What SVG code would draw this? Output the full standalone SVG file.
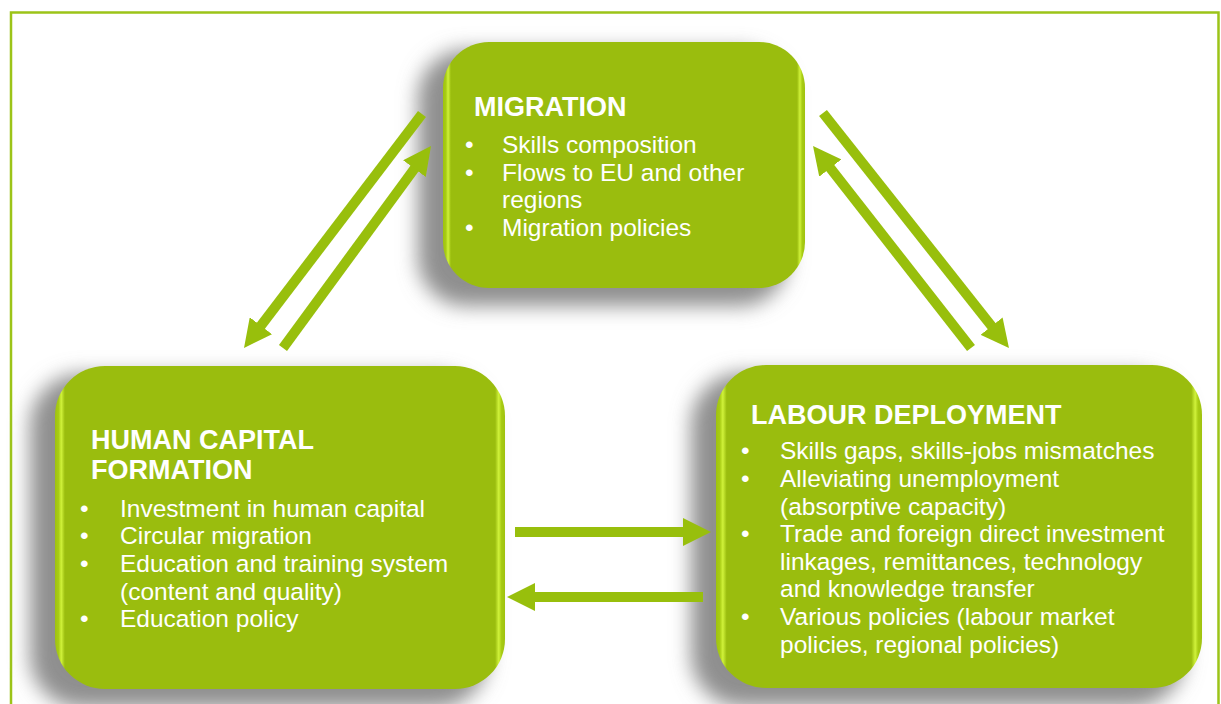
<svg xmlns="http://www.w3.org/2000/svg" width="1221" height="704" viewBox="0 0 1221 704">
<defs>
<style>
.box{fill:url(#boxfill)}
.shadow{fill:#8f8f8f;filter:url(#blur)}
.title{font-family:"Liberation Sans",Arial,sans-serif;font-weight:bold;font-size:27px;fill:#ffffff}
.item{font-family:"Liberation Sans",Arial,sans-serif;font-size:24.5px;fill:#ffffff}
.arrow{stroke:#98bf0c;stroke-width:10;fill:none;marker-end:url(#head)}
</style>
<linearGradient id="boxfill" x1="0" y1="0" x2="1" y2="0">
<stop offset="0" stop-color="#9fc20e"/>
<stop offset="0.008" stop-color="#a8cc14"/>
<stop offset="0.014" stop-color="#d0f23a"/>
<stop offset="0.022" stop-color="#9abd0e"/>
<stop offset="0.978" stop-color="#9abd0e"/>
<stop offset="0.986" stop-color="#d0f23a"/>
<stop offset="0.992" stop-color="#a8cc14"/>
<stop offset="1" stop-color="#9fc20e"/>
</linearGradient>
<filter id="blur" x="-30%" y="-30%" width="160%" height="160%">
<feGaussianBlur stdDeviation="10"/>
</filter>
<marker id="head" markerWidth="2.8" markerHeight="2.8" refX="0.5" refY="1.4" orient="auto" markerUnits="strokeWidth">
<path d="M0,0 L2.8,1.4 L0,2.8 z" fill="#98bf0c"/>
</marker>
</defs>
<rect width="1221" height="704" fill="#ffffff"/>
<path d="M11,704 L11,12.5 L1218.5,12.5 L1218.5,704" fill="none" stroke="#9cc418" stroke-width="2.5"/>

<g id="migration">
<rect class="shadow" x="418" y="50" width="370" height="256" rx="48"/>
<rect class="box" x="443" y="42" width="362" height="246" rx="46"/>
<text class="title" x="474" y="116">MIGRATION</text>
<text class="item" x="465" y="153">•</text>
<text class="item" x="502" y="153">Skills composition</text>
<text class="item" x="465" y="180.5">•</text>
<text class="item" x="502" y="180.5">Flows to EU and other</text>
<text class="item" x="502" y="208">regions</text>
<text class="item" x="465" y="235.5">•</text>
<text class="item" x="502" y="235.5">Migration policies</text>
</g>

<g id="human-capital">
<rect class="shadow" x="30" y="374" width="458" height="334" rx="52"/>
<rect class="box" x="55" y="366" width="450" height="323" rx="50"/>
<text class="title" x="91" y="449">HUMAN CAPITAL</text>
<text class="title" x="91" y="479">FORMATION</text>
<text class="item" x="80" y="516.5">•</text>
<text class="item" x="120" y="516.5">Investment in human capital</text>
<text class="item" x="80" y="544">•</text>
<text class="item" x="120" y="544">Circular migration</text>
<text class="item" x="80" y="572">•</text>
<text class="item" x="120" y="572">Education and training system</text>
<text class="item" x="120" y="599.5">(content and quality)</text>
<text class="item" x="80" y="626.5">•</text>
<text class="item" x="120" y="626.5">Education policy</text>
</g>

<g id="labour-deployment">
<rect class="shadow" x="691" y="373" width="494" height="334" rx="52"/>
<rect class="box" x="716" y="365" width="486" height="323" rx="50"/>
<text class="title" x="751" y="423.5">LABOUR DEPLOYMENT</text>
<text class="item" x="741" y="459">•</text>
<text class="item" x="780" y="459">Skills gaps, skills-jobs mismatches</text>
<text class="item" x="741" y="487">•</text>
<text class="item" x="780" y="487">Alleviating unemployment</text>
<text class="item" x="780" y="514.5">(absorptive capacity)</text>
<text class="item" x="741" y="542">•</text>
<text class="item" x="780" y="542">Trade and foreign direct investment</text>
<text class="item" x="780" y="570">linkages, remittances, technology</text>
<text class="item" x="780" y="597">and knowledge transfer</text>
<text class="item" x="741" y="625">•</text>
<text class="item" x="780" y="625">Various policies (labour market</text>
<text class="item" x="780" y="652.5">policies, regional policies)</text>
</g>

<g id="connectors">
<line class="arrow" x1="422" y1="114" x2="257.9" y2="329.7"/>
<line class="arrow" x1="283" y1="348" x2="417.4" y2="164.6"/>
<line class="arrow" x1="823" y1="113" x2="994.7" y2="330"/>
<line class="arrow" x1="971" y1="348" x2="827.2" y2="164.1"/>
<line class="arrow" x1="515" y1="532" x2="688" y2="532"/>
<line class="arrow" x1="703" y1="597" x2="530" y2="597"/>
</g>
</svg>
